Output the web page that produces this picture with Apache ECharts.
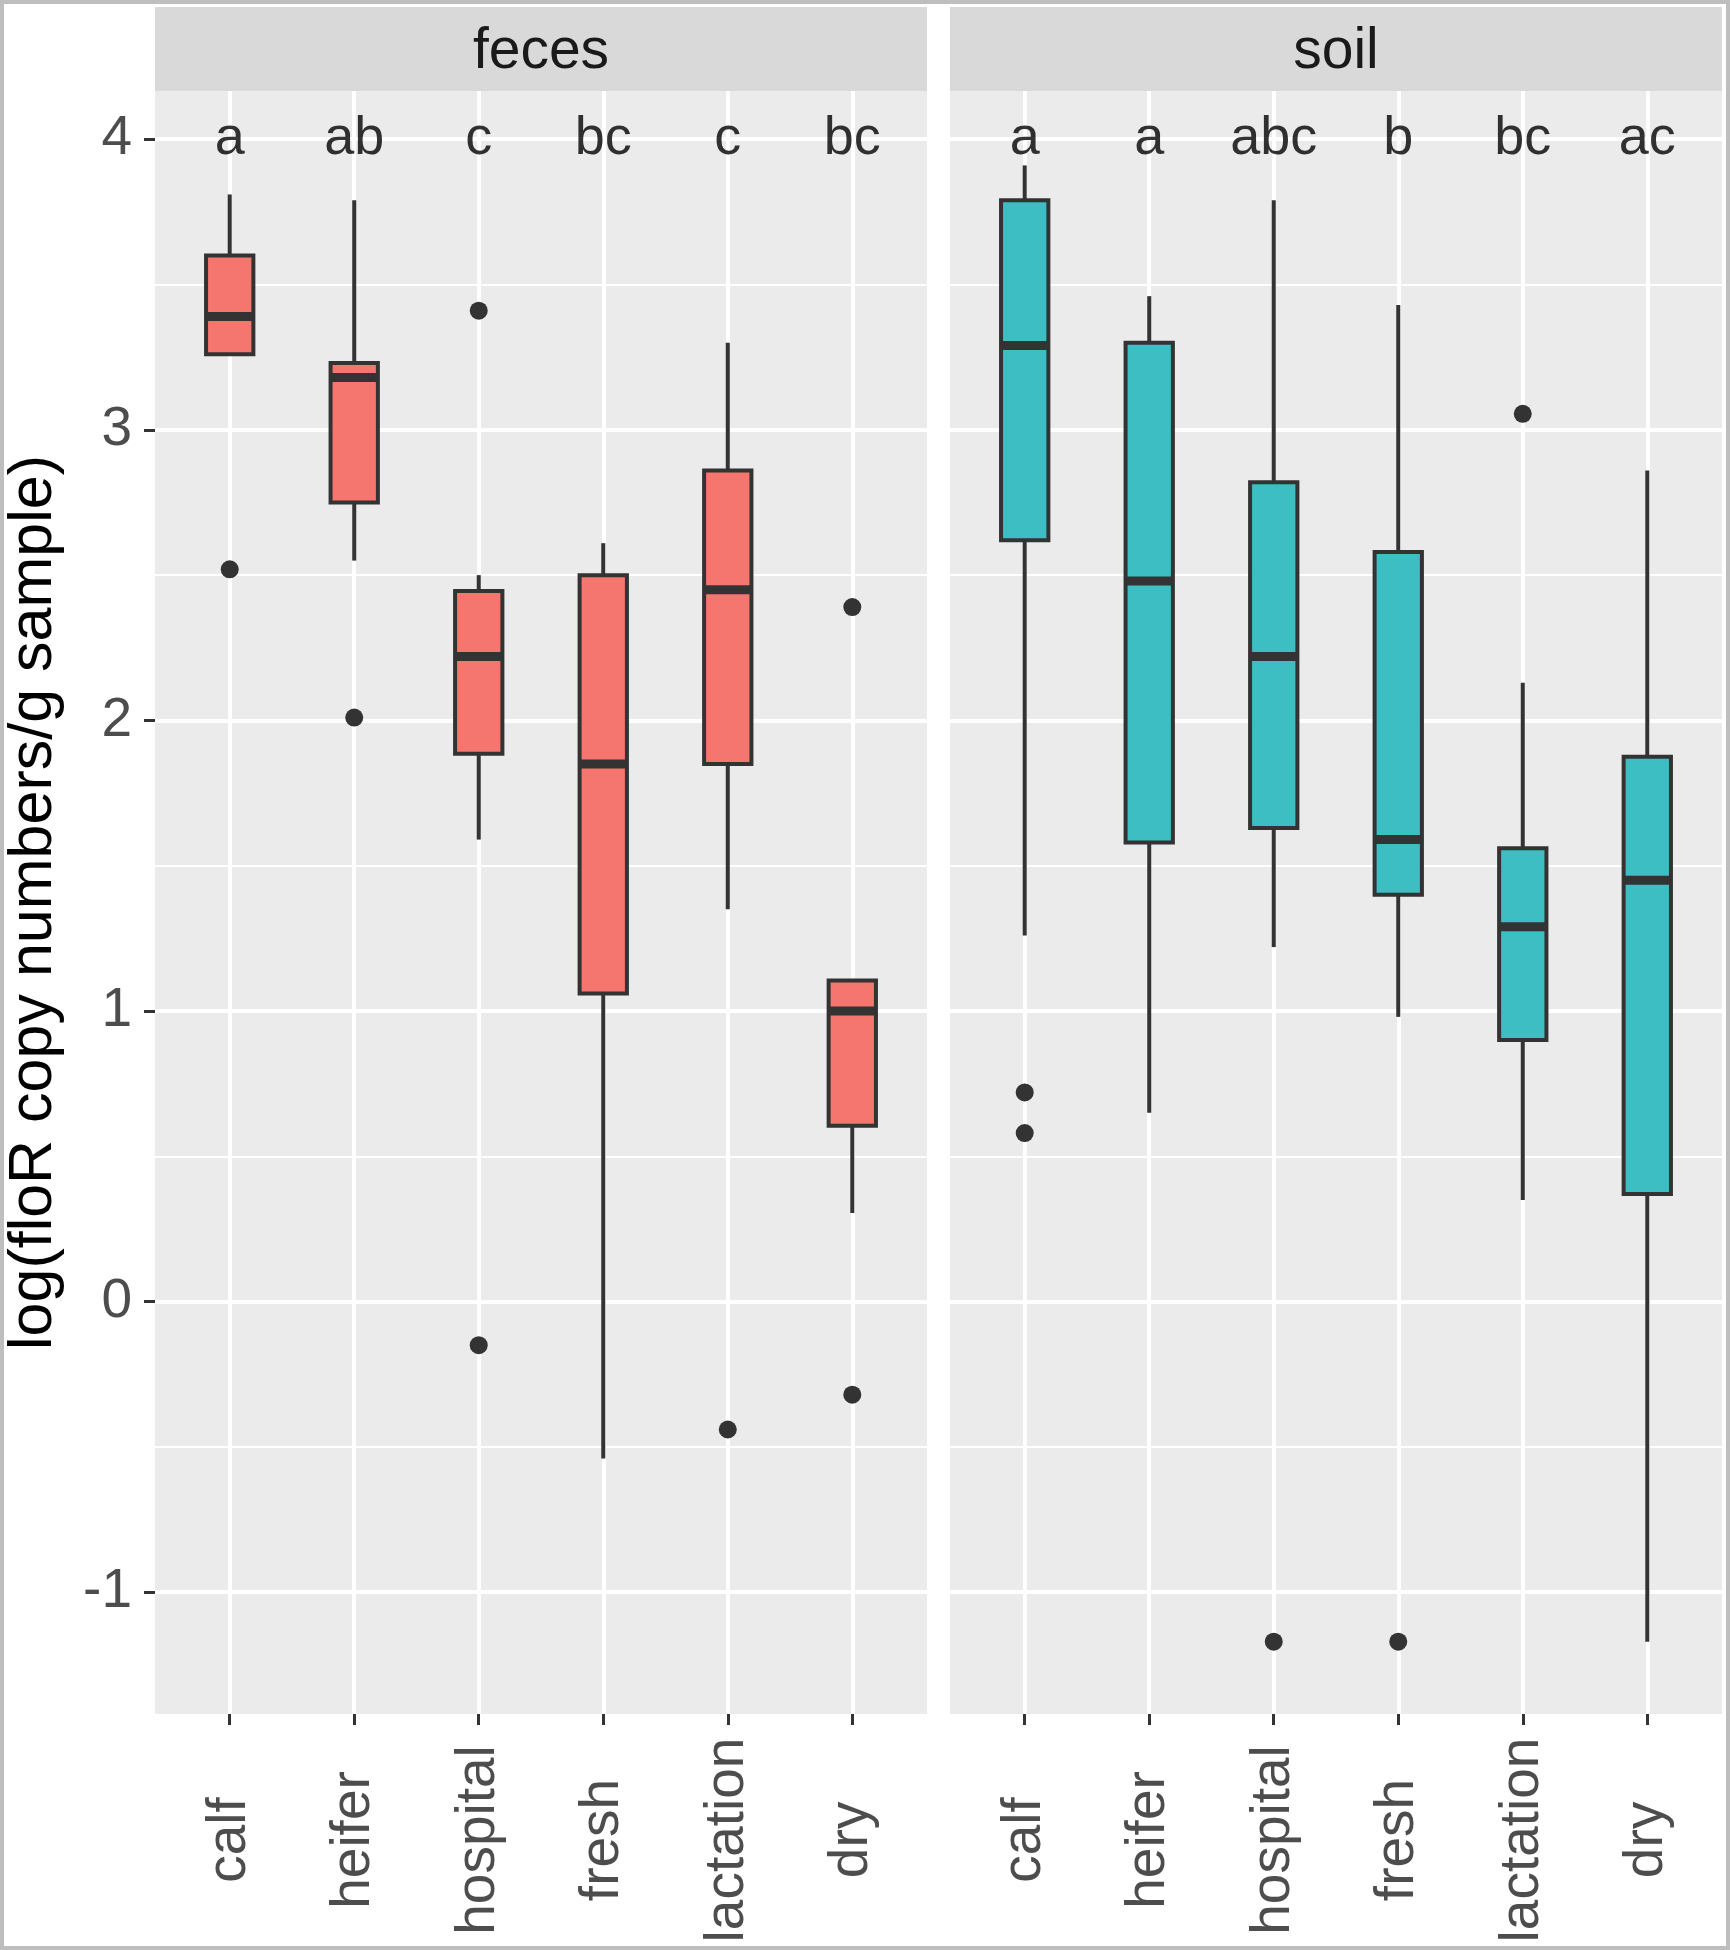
<!DOCTYPE html>
<html>
<head>
<meta charset="utf-8">
<title>floR copy numbers</title>
<script src="https://cdn.jsdelivr.net/npm/echarts@6.0.0/dist/echarts.min.js"></script>
<style>
html, body { margin: 0; padding: 0; background: #fff; }
#chart { width: 1730px; height: 1950px; }
/* grey frame round the whole picture */
#frame {
    position: absolute; left: 0; top: 0;
    width: 1730px; height: 1950px;
    box-sizing: border-box;
    border: 4px solid #BEBEBE;
    pointer-events: none;
}
</style>
</head>
<body>
<div id="chart"></div>
<div id="frame"></div>
<script>
// categories on the x axis (same in both panels)
const categories = ['calf', 'heifer', 'hospital', 'fresh', 'lactation', 'dry']
const panelNames = ['feces', 'soil']

// box stats per category: [lower whisker, Q1, median, Q3, upper whisker]
const fecesBoxes = [
    [3.26, 3.26, 3.39, 3.60, 3.81],
    [2.55, 2.75, 3.18, 3.23, 3.79],
    [1.59, 1.885, 2.22, 2.445, 2.50],
    [-0.54, 1.06, 1.85, 2.50, 2.61],
    [1.35, 1.85, 2.45, 2.86, 3.30],
    [0.305, 0.605, 1.00, 1.105, 1.105]
]
const soilBoxes = [
    [1.26, 2.62, 3.29, 3.79, 3.91],
    [0.65, 1.58, 2.48, 3.30, 3.46],
    [1.22, 1.63, 2.22, 2.82, 3.79],
    [0.98, 1.40, 1.59, 2.58, 3.43],
    [0.35, 0.90, 1.29, 1.56, 2.13],
    [-1.17, 0.37, 1.45, 1.875, 2.86]
]

// outliers: [category index, value]
const fecesOutliers = [[0, 2.52], [1, 2.01], [2, 3.41], [2, -0.15], [4, -0.44], [5, 2.39], [5, -0.32]]
const soilOutliers = [[0, 0.72], [0, 0.58], [2, -1.17], [3, -1.17], [4, 3.055]]

// significance letters, drawn at y = 4
const fecesLetters = ['a', 'ab', 'c', 'bc', 'c', 'bc']
const soilLetters = ['a', 'a', 'abc', 'b', 'bc', 'ac']
const letterY = 4

// y axis
const yTicks = [-1, 0, 1, 2, 3, 4]
const yMinorTicks = [-0.5, 0.5, 1.5, 2.5, 3.5]
const yTitle = 'log(floR copy numbers/g sample)'

const fillColors = ['#F5766E', '#3DBEC3']
const font = '"Liberation Sans", Arial, Helvetica, sans-serif'
const Y_MIN = -1.419
const Y_MAX = 4.166
const BOX_W = 0.38   // box width in category units

const panelLeft = [155, 950]
const panelTop = 91
const panelW = 772
const panelH = 1623

const myChart = echarts.init(document.getElementById('chart'))

function boxRenderer(fill) {
    return function (params, api) {
        const x = api.value(0)
        const lo = api.coord([x, api.value(1)])
        const q1 = api.coord([x, api.value(2)])
        const med = api.coord([x, api.value(3)])
        const q3 = api.coord([x, api.value(4)])
        const hi = api.coord([x, api.value(5)])
        const half = api.size([BOX_W, 0])[0] / 2
        const line = { stroke: '#333333', lineWidth: 4 }
        return {
            type: 'group',
            children: [
                { type: 'line', shape: { x1: hi[0], y1: hi[1], x2: q3[0], y2: q3[1] }, style: line },
                { type: 'line', shape: { x1: q1[0], y1: q1[1], x2: lo[0], y2: lo[1] }, style: line },
                {
                    type: 'rect',
                    shape: { x: q3[0] - half, y: q3[1], width: half * 2, height: q1[1] - q3[1] },
                    style: { fill: fill, stroke: '#333333', lineWidth: 4 }
                },
                {
                    type: 'line',
                    shape: { x1: med[0] - half, y1: med[1], x2: med[0] + half, y2: med[1] },
                    style: { stroke: '#333333', lineWidth: 9 }
                }
            ]
        }
    }
}

const grids = []
const xAxes = []
const yAxes = []
const series = []
const graphics = []

const allBoxes = [fecesBoxes, soilBoxes]
const allOutliers = [fecesOutliers, soilOutliers]
const allLetters = [fecesLetters, soilLetters]

panelNames.forEach((name, i) => {
    grids.push({
        left: panelLeft[i],
        top: panelTop,
        width: panelW,
        height: panelH,
        show: true,
        backgroundColor: '#EBEBEB',
        borderWidth: 0,
        outerBoundsMode: 'none'
    })

    // discrete axis: 0.6 units of padding each side like ggplot
    xAxes.push({
        gridIndex: i,
        type: 'value',
        min: -0.6,
        max: categories.length - 0.4,
        axisLine: { show: false, onZero: false },
        axisTick: {
            show: true,
            customValues: categories.map((c, k) => k),
            length: 11,
            lineStyle: { color: '#333333', width: 3 }
        },
        axisLabel: {
            show: true,
            customValues: categories.map((c, k) => k),
            formatter: v => categories[Math.round(v)],
            rotate: 90,
            align: 'center',
            verticalAlign: 'middle',
            margin: 126,
            fontSize: 55,
            fontFamily: font,
            color: '#4D4D4D'
        },
        splitLine: { show: true, lineStyle: { color: '#FFFFFF', width: 4 } }
    })

    // major y axis
    yAxes.push({
        gridIndex: i,
        type: 'value',
        min: Y_MIN,
        max: Y_MAX,
        name: i === 0 ? yTitle : '',
        nameLocation: 'middle',
        nameRotate: 90,
        nameGap: 90,
        nameTextStyle: { fontSize: 61, fontFamily: font, color: '#000000' },
        axisLine: { show: false, onZero: false },
        axisTick: {
            show: i === 0,
            customValues: yTicks,
            length: 11,
            lineStyle: { color: '#333333', width: 3 }
        },
        axisLabel: {
            show: i === 0,
            customValues: yTicks,
            margin: 23,
            fontSize: 55,
            fontFamily: font,
            color: '#4D4D4D'
        },
        splitLine: { show: true, lineStyle: { color: '#FFFFFF', width: 4 } }
    })
    // minor grid lines
    yAxes.push({
        gridIndex: i,
        type: 'value',
        position: 'left',
        min: Y_MIN,
        max: Y_MAX,
        axisLine: { show: false, onZero: false },
        axisTick: { show: false, customValues: yMinorTicks },
        axisLabel: { show: false, customValues: yMinorTicks },
        splitLine: { show: true, lineStyle: { color: '#FFFFFF', width: 2 } }
    })

    series.push({
        name: name,
        type: 'custom',
        xAxisIndex: i,
        yAxisIndex: i * 2,
        renderItem: boxRenderer(fillColors[i]),
        encode: { x: 0, y: [1, 2, 3, 4, 5] },
        data: allBoxes[i].map((b, k) => [k].concat(b)),
        z: 3
    })
    series.push({
        name: name + ' outliers',
        type: 'scatter',
        xAxisIndex: i,
        yAxisIndex: i * 2,
        symbol: 'circle',
        symbolSize: 18,
        itemStyle: { color: '#333333', opacity: 1 },
        data: allOutliers[i],
        z: 4
    })
    series.push({
        name: name + ' letters',
        type: 'scatter',
        xAxisIndex: i,
        yAxisIndex: i * 2,
        symbolSize: 0,
        silent: true,
        label: {
            show: true,
            position: 'inside',
            formatter: p => p.value[2],
            fontSize: 54,
            fontFamily: font,
            color: '#000000'
        },
        data: allLetters[i].map((t, k) => [k, letterY, t]),
        z: 5
    })

    // facet strip
    graphics.push({
        type: 'rect',
        shape: { x: panelLeft[i], y: 7, width: panelW, height: 84 },
        style: { fill: '#D9D9D9' }
    })
    graphics.push({
        type: 'text',
        x: panelLeft[i] + panelW / 2,
        y: 52,
        style: {
            text: name,
            font: '57px ' + font,
            fill: '#1A1A1A',
            textAlign: 'center',
            textVerticalAlign: 'middle',
            align: 'center',
            verticalAlign: 'middle'
        }
    })
})

myChart.setOption({
    animation: false,
    backgroundColor: '#FFFFFF',
    grid: grids,
    xAxis: xAxes,
    yAxis: yAxes,
    series: series,
    graphic: graphics
})
</script>
</body>
</html>
